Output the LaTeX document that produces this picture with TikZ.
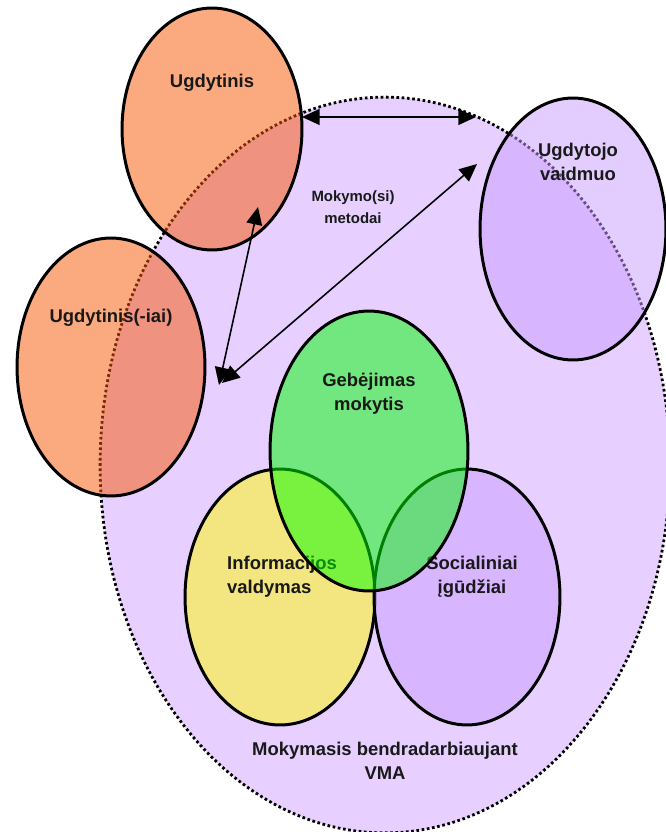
\documentclass[tikz,border=0pt]{standalone}
\usepackage{fontspec}
\setmainfont{Liberation Sans}
\usetikzlibrary{shapes.geometric,arrows.meta}
\definecolor{lavender}{RGB}{231,208,255}
\definecolor{carrot}{RGB}{248,86,0}
\definecolor{lilac}{RGB}{200,156,255}
\definecolor{lime}{RGB}{0,255,0}
\definecolor{lemon}{RGB}{255,250,0}
\tikzset{>={Triangle[length=10pt,width=9pt]}}
\tikzset{
  blob/.style={ellipse, draw, line width=1.7pt, inner sep=0pt, fill opacity=0.5},
  rad/.style 2 args={minimum width=#1*0.04cm, minimum height=#2*0.04cm},
  lbl/.style={font=\bfseries\fontsize{10.5}{13.5}\selectfont, align=center, text=black!90},
  link/.style={<->, line width=0.9pt}
}

\begin{document}
\begin{tikzpicture}[x=0.02cm,y=-0.02cm]
\useasboundingbox (0,0) rectangle (666,832);
% big group
\node[ellipse, draw, fill=lavender, line width=1.6pt, dash pattern=on 1.5pt off 1.5pt, rad={285}{368}] (vma) at (385,465) {};
\node[blob, fill=carrot, rad={90}{121}] (ugd) at (212,129) {};
\node[blob, fill=carrot, rad={94}{129}] (ugdiai) at (111,367) {};
\node[blob, fill=lilac, rad={93}{131}] (vaid) at (573,229) {};
\node[lbl] (tugd) at (212,83) {Ugdytinis};
\node[lbl] (tugdiai) at (111,318) {Ugdytinis(-iai)};
\node[lbl] (tvaid) at (578,162) {Ugdytojo\\vaidmuo};
\node[lbl, font=\bfseries\fontsize{8.5}{12.5}\selectfont] (tmet) at (353,207) {Mokymo(si)\\metodai};
% three skills
\node[blob, fill=lemon, rad={95}{128}] (info) at (280,597) {};
\node[blob, fill=lilac, rad={93}{128}] (soc) at (467,597) {};
\node[lbl, align=left, anchor=west] (tinfo) at (221,577) {Informacijos\\valdymas};
\node[lbl] (tsoc) at (472,577) {Socialiniai\\įgūdžiai};
\node[blob, fill=lime, rad={99}{140}] (geb) at (369,451) {};
\node[lbl] (tgeb) at (369,394) {Gebėjimas\\mokytis};
\node[lbl] (tvma) at (385,761) {Mokymasis bendradarbiaujant\\VMA};
% arrows
\coordinate (m1) at (302,117);
\coordinate (m2) at (476,117);
\coordinate (m3) at (258,207);
\coordinate (m4) at (219,385);
\coordinate (m5) at (477,164);
\coordinate (m6) at (222,383);
\draw[link] (m1) -- (m2);
\draw[link] (m3) -- (m4);
\draw[link] (m5) -- (m6);
\end{tikzpicture}
\end{document}
